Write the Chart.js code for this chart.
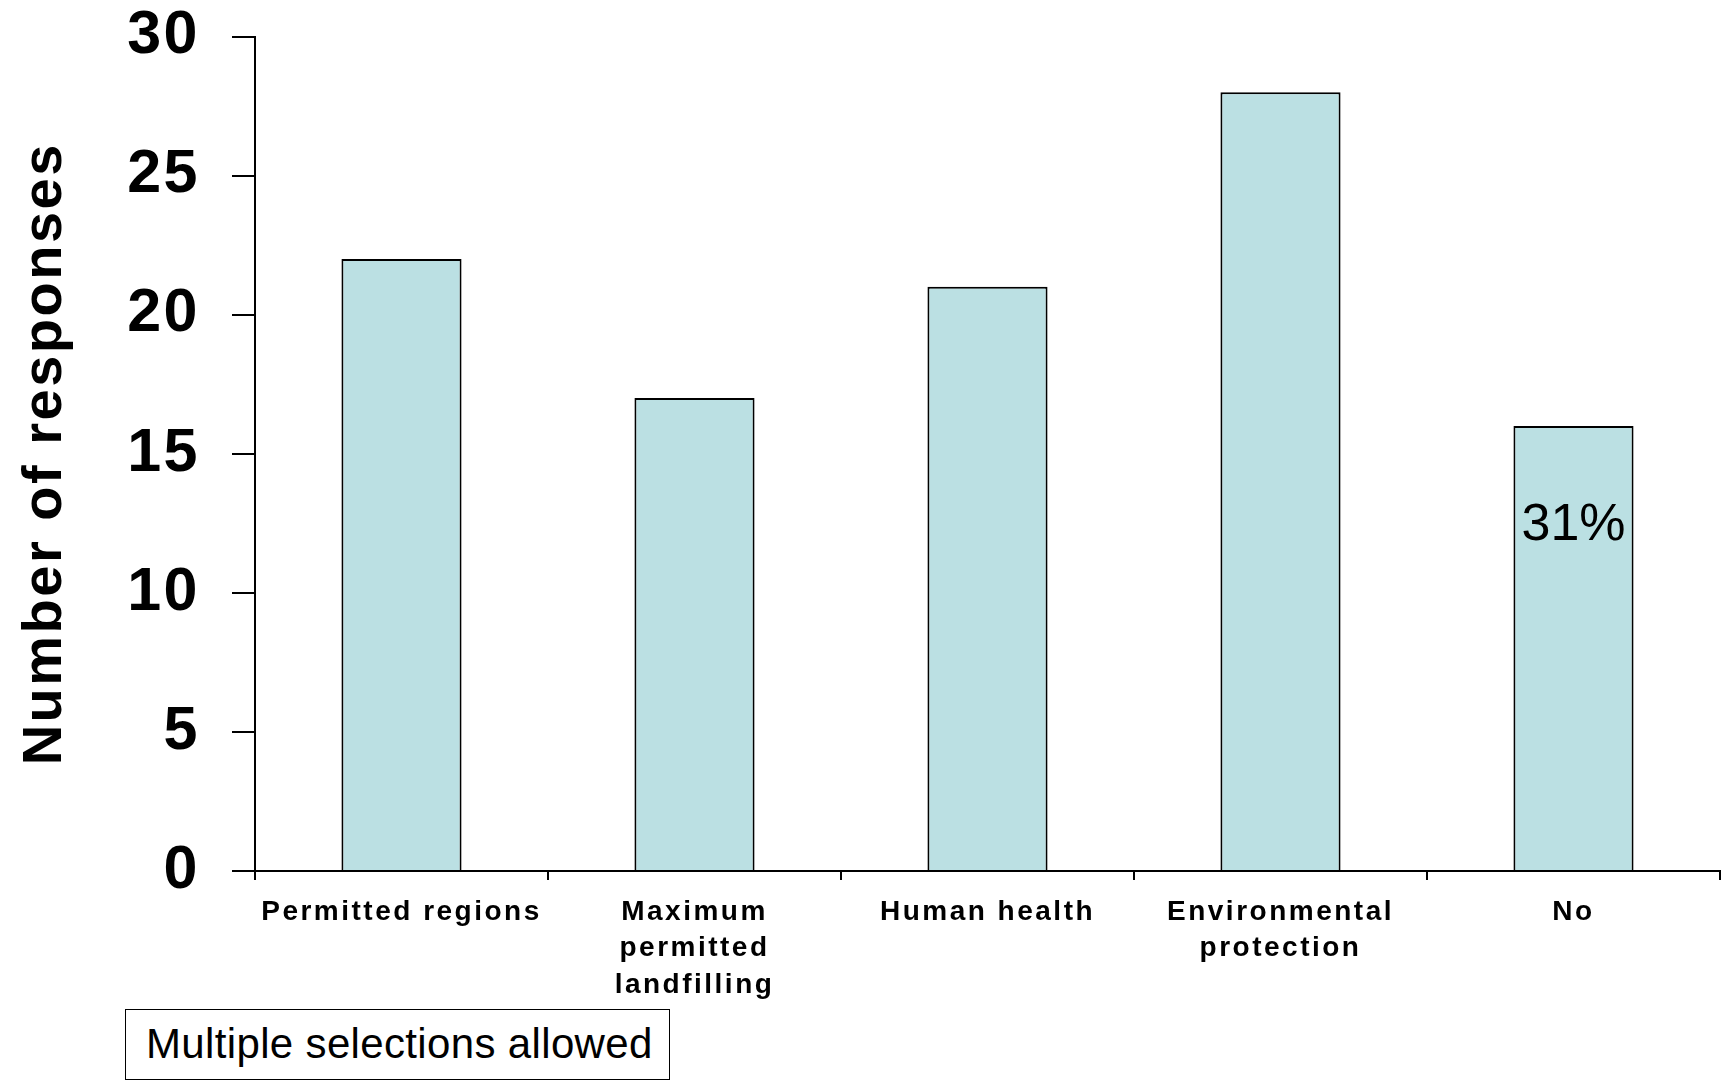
<!DOCTYPE html>
<html>
<head>
<meta charset="utf-8">
<script src="https://cdn.jsdelivr.net/npm/chart.js@4/dist/chart.umd.min.js"></script>
<style>
  html, body { margin: 0; padding: 0; background: #ffffff; }
  #wrap { position: relative; width: 1729px; height: 1081px; overflow: hidden; }
  #note {
    position: absolute; left: 125px; top: 1009px; width: 545px; height: 71px;
    box-sizing: border-box; border: 1.5px solid #000; background: #fff;
    font-family: "Liberation Sans", Arial, sans-serif; font-size: 42px;
    line-height: 68px; padding-left: 20px; color: #000; white-space: nowrap;
    letter-spacing: 0.35px;
  }
</style>
</head>
<body>
<div id="wrap">
  <canvas id="c" width="1729" height="1081"></canvas>
  <div id="note">Multiple selections allowed</div>
</div>
<script>
// ---- data ----
const categories = [
  ["Permitted regions"],
  ["Maximum", "permitted", "landfilling"],
  ["Human health"],
  ["Environmental", "protection"],
  ["No"]
];
const responses = [22, 17, 21, 28, 16];
const yTicks = [0, 5, 10, 15, 20, 25, 30];
const yTitle = "Number of responses";
const barNotes = ["", "", "", "", "31%"];
const barNoteValues = [null, null, null, null, 12.4];

const FONT = '"Liberation Sans", Arial, sans-serif';

const spacingPlugin = {
  id: 'spacing',
  beforeDraw(chart) {
    chart.ctx.letterSpacing = '2.5px';
  }
};

const notePlugin = {
  id: 'barNotes',
  afterDatasetsDraw(chart) {
    const ctx = chart.ctx;
    const meta = chart.getDatasetMeta(0);
    const ys = chart.scales.y;
    ctx.save();
    ctx.letterSpacing = '0px';
    ctx.font = '52px ' + FONT;
    ctx.fillStyle = '#000';
    ctx.textAlign = 'center';
    ctx.textBaseline = 'middle';
    barNotes.forEach((t, i) => {
      if (!t) return;
      const bar = meta.data[i];
      ctx.fillText(t, bar.x, ys.getPixelForValue(barNoteValues[i]));
    });
    ctx.restore();
  }
};

new Chart(document.getElementById('c'), {
  type: 'bar',
  data: {
    labels: categories,
    datasets: [{
      data: responses,
      backgroundColor: '#BBE0E3',
      borderColor: '#000000',
      borderWidth: 2,
      categoryPercentage: 1.0,
      barPercentage: 0.41
    }]
  },
  options: {
    responsive: false,
    animation: false,
    events: [],
    layout: { padding: { top: 36.5, right: 9, left: 0, bottom: 0 } },
    plugins: { legend: { display: false }, tooltip: { enabled: false } },
    scales: {
      x: {
        offset: true,
        grid: {
          offset: true, drawOnChartArea: false, drawTicks: true,
          tickLength: 9, color: '#000', lineWidth: 2
        },
        border: { display: true, color: '#000', width: 2 },
        ticks: {
          color: '#000', padding: 14, maxRotation: 0, autoSkip: false,
          font: { family: FONT, size: 28, weight: 'bold', lineHeight: 1.3 }
        },
        afterFit(s) { s.height = 210; s.paddingLeft = 0; s.paddingRight = 0; }
      },
      y: {
        min: 0, max: 30,
        afterBuildTicks(s) { s.ticks = yTicks.map(v => ({ value: v })); },
        grid: {
          drawOnChartArea: false, drawTicks: true, tickLength: 23,
          color: '#000', lineWidth: 2
        },
        border: { display: true, color: '#000', width: 2 },
        ticks: {
          color: '#000', padding: 32,
          font: { family: FONT, size: 61, weight: 'bold', lineHeight: 1.0 }
        },
        title: {
          display: true, text: yTitle, color: '#000',
          padding: { top: 12, bottom: 0 },
          font: { family: FONT, size: 56, weight: 'bold', lineHeight: 1.2 }
        },
        afterFit(s) { s.width = 255; s.paddingTop = 0; s.paddingBottom = 0; }
      }
    }
  },
  plugins: [spacingPlugin, notePlugin]
});
</script>
</body>
</html>
